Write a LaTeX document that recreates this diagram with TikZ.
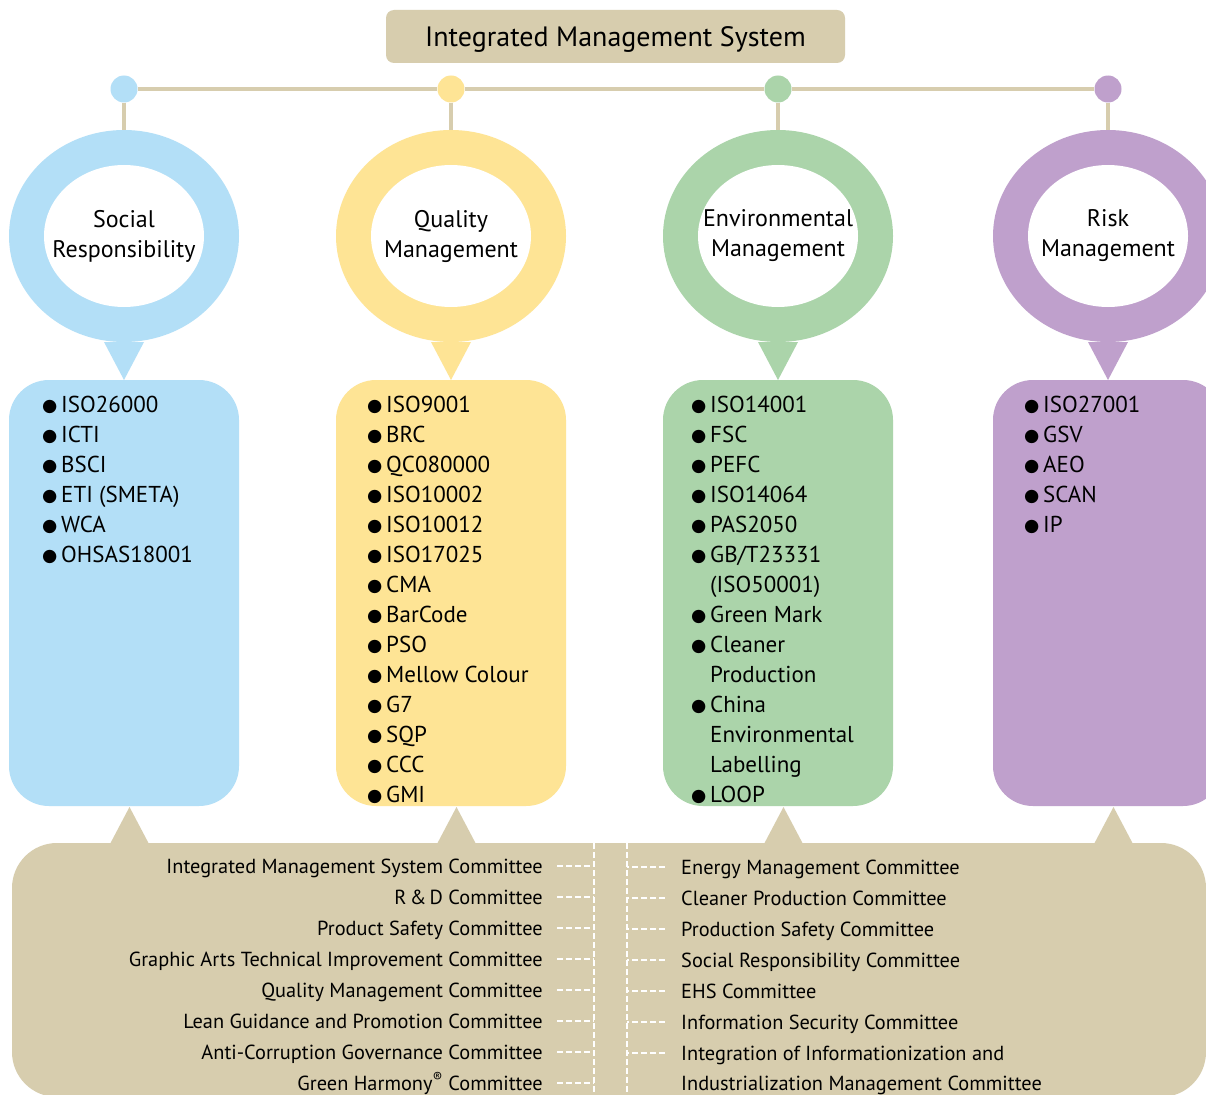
\documentclass[tikz,border=0pt]{standalone}
\usepackage{fontspec}
\setmainfont{PT Sans}
\newfontfamily\symfont{DejaVu Sans}
\usetikzlibrary{shapes.geometric}

\definecolor{imstan}{RGB}{215,205,174}
\definecolor{socblue}{RGB}{179,223,247}
\definecolor{qualyellow}{RGB}{254,228,149}
\definecolor{envgreen}{RGB}{171,212,170}
\definecolor{riskpurple}{RGB}{191,160,204}

% bullet glyph followed by the item text; \cnt indents a wrapped line
\newcommand\bul{\makebox[19pt][l]{\raisebox{0.8pt}{\symfont\fontsize{17.5}{20}\selectfont ●}}}
\newcommand\cnt{\hspace*{19pt}}

\begin{document}
\begin{tikzpicture}[x=1pt,y=-1pt,
  titlebox/.style={fill=imstan, rounded corners=8pt, minimum width=459pt,
    minimum height=53pt, inner sep=0pt, text height=19.5pt, text depth=0pt,
    font=\fontsize{28}{30}\selectfont},
  dot/.style={circle, minimum size=27pt, inner sep=0pt},
  link/.style={draw=imstan, line width=3.2pt},
  ring/.style={ellipse, minimum width=230pt, minimum height=212pt, inner sep=0pt},
  hole/.style={ellipse, fill=white, minimum width=160pt, minimum height=142pt, inner sep=0pt},
  ringlabel/.style={align=center, inner sep=0pt, font=\fontsize{24}{30}\selectfont},
  listbox/.style={rectangle, rounded corners=40pt, minimum width=230pt,
    minimum height=426pt, inner sep=0pt},
  item/.style={anchor=base west, inner sep=0pt, font=\fontsize{23}{28}\selectfont},
  cmte/.style={inner sep=0pt, font=\fontsize{20.35}{24}\selectfont},
  panel/.style={rectangle, fill=imstan, rounded corners=45pt, inner sep=0pt},
  dashline/.style={draw=white, line width=1.6pt, dash pattern=on 6pt off 3pt}
]
\clip (0,0) rectangle (1206,1094);
\fill[white] (0,0) rectangle (1206,1094);

% ---------- top title and the bar that joins the four pillars ----------
\node[titlebox] (title) at (615.5,36.5) {Integrated Management System};

\node[dot, fill=socblue]    (d1) at (124,89) {};
\node[dot, fill=qualyellow] (d2) at (451,89) {};
\node[dot, fill=envgreen]   (d3) at (778,89) {};
\node[dot, fill=riskpurple] (d4) at (1108,89) {};

\draw[link] (d1) -- (d2);
\draw[link] (d2) -- (d3);
\draw[link] (d3) -- (d4);

% ---------- rings ----------
\node[ring, fill=socblue]    (r1) at (124,236) {};
\node[ring, fill=qualyellow] (r2) at (451,236) {};
\node[ring, fill=envgreen]   (r3) at (778,236) {};
\node[ring, fill=riskpurple] (r4) at (1108,236) {};

\foreach \k in {1,...,4} {
  \draw[link] (d\k.south) -- (r\k.north);
  \node[hole] (h\k) at (r\k) {};
}

\node[ringlabel] (t1) at (h1) {Social\\Responsibility};
\node[ringlabel] (t2) at (h2) {Quality\\Management};
\node[ringlabel] (t3) at (h3) {Environmental\\Management};
\node[ringlabel] (t4) at (h4) {Risk\\Management};

% ---------- standard lists ----------
\node[listbox, fill=socblue]    (b1) at (124,593) {};
\node[listbox, fill=qualyellow] (b2) at (451,593) {};
\node[listbox, fill=envgreen]   (b3) at (778,593) {};
\node[listbox, fill=riskpurple] (b4) at (1108,593) {};

% pointers from each ring down to its list
\fill[socblue]    (104,342) -- (144,342) -- (124,380) -- cycle;
\fill[qualyellow] (431,342) -- (471,342) -- (451,380) -- cycle;
\fill[envgreen]   (758,342) -- (798,342) -- (778,380) -- cycle;
\fill[riskpurple] (1088,342) -- (1128,342) -- (1108,380) -- cycle;

\foreach \t [count=\i] in {ISO26000, ICTI, BSCI, ETI (SMETA), WCA, OHSAS18001}
  \node[item] (s\i) at (42,{412+30*(\i-1)}) {\bul\t};

\foreach \t [count=\i] in {ISO9001, BRC, QC080000, ISO10002, ISO10012, ISO17025,
    CMA, BarCode, PSO, Mellow Colour, G7, SQP, CCC, GMI}
  \node[item] (q\i) at (367,{412+30*(\i-1)}) {\bul\t};

\foreach \t [count=\i] in {{\bul ISO14001}, {\bul FSC}, {\bul PEFC}, {\bul ISO14064},
    {\bul PAS2050}, {\bul GB/T23331}, {\cnt (ISO50001)}, {\bul Green Mark},
    {\bul Cleaner}, {\cnt Production}, {\bul China}, {\cnt Environmental},
    {\cnt Labelling}, {\bul LOOP}}
  \node[item] (e\i) at (691,{412+30*(\i-1)}) {\t};

\foreach \t [count=\i] in {ISO27001, GSV, AEO, SCAN, IP}
  \node[item] (k\i) at (1024,{412+30*(\i-1)}) {\bul\t};

% ---------- committees panel ----------
\node[panel, minimum width=1194pt, minimum height=254pt] (panel) at (609,970) {};

\fill[imstan] (110,844) -- (149,844) -- (129.5,807) -- cycle;
\fill[imstan] (437,844) -- (476,844) -- (456.5,807) -- cycle;
\fill[imstan] (764,844) -- (803,844) -- (783.5,807) -- cycle;
\fill[imstan] (1094,844) -- (1133,844) -- (1113.5,807) -- cycle;

\coordinate (spineLtop) at (594,843);
\coordinate (spineLbot) at (594,1094);
\coordinate (spineRtop) at (627,843);
\coordinate (spineRbot) at (627,1094);
\draw[dashline] (spineLtop) -- (spineLbot);
\draw[dashline] (spineRtop) -- (spineRbot);

\foreach \t [count=\i] in {Integrated Management System Committee, R\,\&\,D Committee,
    Product Safety Committee, Graphic Arts Technical Improvement Committee,
    Quality Management Committee, Lean Guidance and Promotion Committee,
    Anti-Corruption Governance Committee, Green Harmony\textsuperscript{®} Committee} {
  \node[cmte, anchor=base east] (L\i) at (543,{873+31*(\i-1)}) {\t};
  \coordinate (lp\i) at ([xshift=14pt,yshift=7pt]L\i.base east);
  \draw[dashline] (lp\i) -- (spineLtop |- lp\i);
}

\foreach \t [count=\i] in {Energy Management Committee, Cleaner Production Committee,
    Production Safety Committee, Social Responsibility Committee, EHS Committee,
    Information Security Committee, Integration of Informationization and} {
  \node[cmte, anchor=base west] (R\i) at (681,{874+31*(\i-1)}) {\t};
  \coordinate (rp\i) at ([xshift=-16pt,yshift=7pt]R\i.base west);
  \draw[dashline] (rp\i) -- (spineRtop |- rp\i);
}
\node[cmte, anchor=base west] (R8) at (681,1090) {Industrialization Management Committee};

\end{tikzpicture}
\end{document}
